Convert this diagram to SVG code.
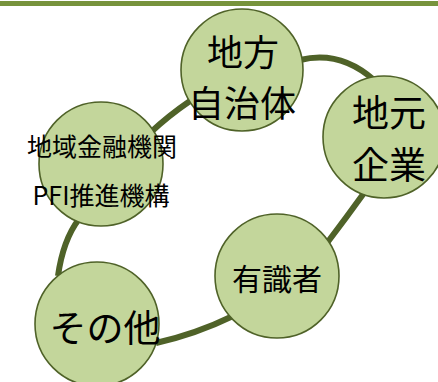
<svg xmlns="http://www.w3.org/2000/svg" width="438" height="382" viewBox="0 0 438 382">
<style>
.n{fill:#C3D69B;stroke:#4F6228;stroke-width:1.6}
.c{fill:none;stroke:#4F6228;stroke-width:6}
text{font-family:"Noto Sans CJK JP","Noto Sans",sans-serif;fill:#000;text-anchor:middle}
</style>
<rect x="0" y="1" width="438" height="5" fill="#77933C"/>
<g id="connectors">
<path class="c" d="M300,60 Q340,50 374,80"/>
<path class="c" d="M364,193 Q346,218 327,243"/>
<path class="c" d="M233,316 Q196,334 156,343"/>
<path class="c" d="M79,219 Q63,240 58,276"/>
<path class="c" d="M150,133 Q168,116 190,101"/>
</g>
<g id="n-chiho"><circle class="n" cx="242" cy="70" r="61"/><text x="243" y="66" font-size="36">地方</text><text x="242" y="117" font-size="36">自治体</text></g>
<g id="n-jimoto"><circle class="n" cx="384" cy="137" r="61"/><text x="389" y="127" font-size="37">地元</text><text x="389" y="179" font-size="37">企業</text></g>
<g id="n-kinyu"><circle class="n" cx="101" cy="164" r="62"/><text x="102" y="156" font-size="25">地域金融機関</text><text x="101" y="205" font-size="25">PFI推進機構</text></g>
<g id="n-sonota"><circle class="n" cx="97" cy="324" r="62"/><text x="105" y="342" font-size="37">その他</text></g>
<g id="n-yushiki"><circle class="n" cx="277" cy="276" r="62"/><text x="277" y="290" font-size="30">有識者</text></g>
</svg>
